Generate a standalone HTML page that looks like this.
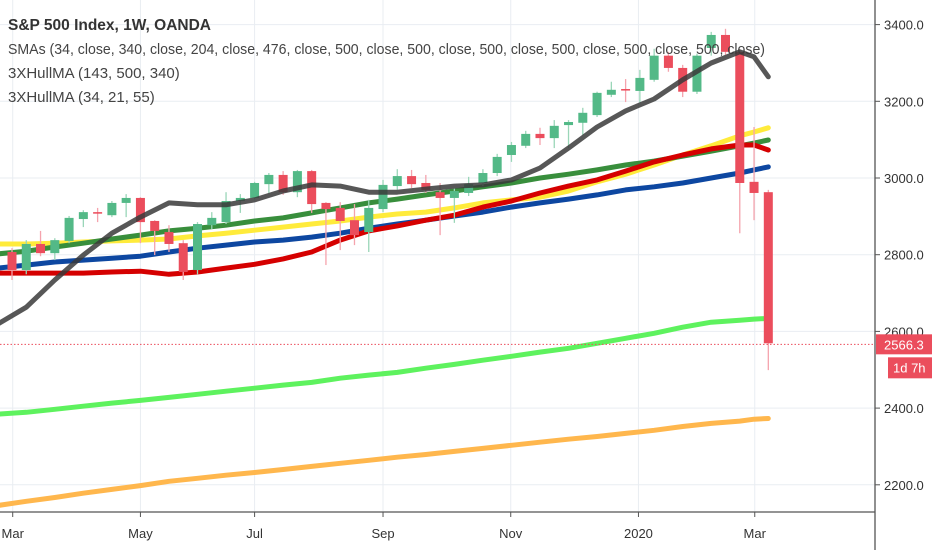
<!DOCTYPE html>
<html><head><meta charset="utf-8"><style>
html,body{margin:0;padding:0;background:#fff;}
svg{display:block;font-family:"Liberation Sans",sans-serif;}
</style></head><body>
<svg id="chart" width="932" height="550" viewBox="0 0 932 550" xmlns="http://www.w3.org/2000/svg">
<g id="grid"></g>
<g id="mas"></g>
<g id="candles"></g>
<g id="axes"></g>
<g id="legend">
<text x="8" y="30" font-size="15.5" font-weight="bold" fill="#333">S&amp;P 500 Index, 1W, OANDA</text>
<text x="8" y="54" font-size="15" fill="#444" textLength="757" lengthAdjust="spacingAndGlyphs">SMAs (34, close, 340, close, 204, close, 476, close, 500, close, 500, close, 500, close, 500, close, 500, close, 500, close)</text>
<text x="8" y="78" font-size="15" fill="#444">3XHullMA (143, 500, 340)</text>
<text x="8" y="102" font-size="15" fill="#444">3XHullMA (34, 21, 55)</text>
</g>
</svg>
<script>
const opens  = [2807,2760,2828,2804,2836,2893,2911,2903,2935,2948,2888,2859,2830,2760,2877,2885,2940,2948,2984,3008,2963,3018,2935,2922,2890,2859,2919,2979,3005,2987,2963,2948,2961,2987,3013,3060,3084,3115,3104,3138,3144,3164,3217,3232,3227,3256,3319,3287,3225,3339,3373,3329,2990,2963];
const highs  = [2817,2838,2862,2843,2901,2916,2922,2940,2958,2950,2890,2877,2838,2885,2911,2963,2958,2990,3013,3018,3021,3021,2937,2937,2932,2943,2995,3023,3021,3008,2987,2974,3003,3023,3063,3094,3123,3131,3151,3151,3183,3225,3251,3258,3282,3337,3329,3295,3324,3381,3389,3334,3133,2969];
const lows   = [2734,2749,2796,2786,2830,2872,2885,2898,2898,2830,2799,2807,2734,2749,2867,2880,2909,2945,2961,2956,2950,2909,2773,2812,2825,2807,2911,2969,2974,2961,2851,2883,2953,2979,3005,3042,3078,3086,3078,3078,3112,3159,3211,3198,3196,3251,3277,3211,3219,3319,3321,2856,2890,2499];
const closes = [2760,2828,2804,2838,2896,2911,2907,2935,2948,2885,2862,2828,2755,2880,2896,2940,2948,2987,3008,2963,3018,2932,2919,2888,2851,2922,2982,3005,2984,2969,2948,2966,2984,3013,3055,3086,3115,3104,3136,3146,3170,3222,3230,3228,3261,3319,3287,3225,3319,3373,3329,2987,2961,2569];
const maWeeks = [-1,1,3,5,7,9,11,13,15,17,19,21,23,25,27,29,31,33,35,37,39,41,43,45,47,49,51,52,53];
const smaGray   = [2619,2663,2734,2799,2856,2898,2935,2930,2930,2943,2966,2982,2979,2963,2963,2971,2979,2982,2995,3026,3078,3133,3175,3206,3256,3300,3329,3316,3264];
const smaGreen  = [2802,2809,2820,2830,2841,2851,2862,2869,2877,2888,2896,2909,2922,2935,2945,2956,2966,2977,2987,3000,3010,3021,3034,3044,3057,3070,3084,3091,3099];
const smaYellow = [2828,2828,2830,2833,2836,2838,2841,2849,2856,2864,2872,2880,2888,2898,2906,2911,2922,2935,2943,2950,2966,2990,3010,3034,3060,3084,3110,3120,3131];
const smaBlue   = [2765,2773,2781,2786,2791,2796,2807,2817,2825,2833,2838,2846,2856,2869,2880,2890,2901,2911,2924,2935,2945,2956,2969,2977,2987,3000,3013,3021,3029];
const hullRed   = [2752,2752,2752,2752,2755,2757,2749,2755,2765,2775,2789,2807,2838,2862,2875,2890,2903,2924,2940,2961,2979,2995,3018,3042,3060,3076,3086,3086,3073];
const smaLime   = [2384,2389,2397,2405,2413,2420,2428,2436,2444,2452,2460,2467,2478,2486,2493,2504,2514,2525,2535,2546,2556,2569,2582,2595,2611,2624,2629,2632,2634];
const smaOrange = [2146,2157,2167,2178,2188,2198,2209,2217,2225,2232,2240,2248,2256,2264,2272,2279,2287,2295,2303,2311,2319,2326,2334,2342,2352,2360,2366,2371,2373];
const priceTicks = [2200,2400,2600,2800,3000,3200,3400];
const timeLabels = ["Mar","May","Jul","Sep","Nov","2020","Mar"];
const timeWeeks  = [0.05,9.0,17.0,26.0,34.95,43.9,52.05];
const lastPrice = 2566.3;

const NS="http://www.w3.org/2000/svg";
const X0=12, WSTEP=14.27, Y0=178, PSCALE=0.3835, AXIS_X=875, AXIS_Y=512;
function xw(w){return X0+w*WSTEP;}
function yp(p){return Y0-(p-3000)*PSCALE;}
function mk(tag,attrs,parent){const e=document.createElementNS(NS,tag);for(const k in attrs)e.setAttribute(k,attrs[k]);parent.appendChild(e);return e;}

const grid=document.getElementById('grid');
priceTicks.forEach(p=>{
  const l=mk('line',{x1:0,x2:AXIS_X,y1:yp(p),y2:yp(p),stroke:'#e9edf2','stroke-width':1},grid);
  
  
});
timeWeeks.forEach(w=>{
  const l=mk('line',{x1:xw(w),x2:xw(w),y1:0,y2:AXIS_Y,stroke:'#e9edf2','stroke-width':1},grid);
  
  
});

const mas=document.getElementById('mas');
function drawMA(arr,color,width,name,op){
  const pts=arr.map((v,i)=>xw(maWeeks[i]).toFixed(1)+','+yp(v).toFixed(1)).join(' ');
  const pl=mk('polyline',{points:pts,fill:'none',stroke:color,'stroke-width':width,'stroke-linejoin':'round','stroke-linecap':'round',opacity:op||1},mas);
  
  
}
drawMA(smaOrange,'#ffb74d',5,'sma-orange-line');
drawMA(smaLime,'#5ef25e',5,'sma-lime-line');
drawMA(smaYellow,'#ffeb3b',5,'sma-yellow-line');
drawMA(smaBlue,'#0d47a1',5,'sma-blue-line');
drawMA(smaGreen,'#388e3c',5,'sma-green-line');
drawMA(hullRed,'#d50000',5,'hullma-red-line');

const cg=document.getElementById('candles');
opens.forEach((o,i)=>{
  const c=closes[i], x=xw(i), up=c>=o;
  const col=up?'#53b987':'#eb4d5c';
  const w=mk('line',{x1:x,x2:x,y1:yp(highs[i]),y2:yp(lows[i]),stroke:up?'#9ad6b8':'#f5a3ad','stroke-width':1.3},cg);
  
  
  const top=yp(Math.max(o,c)), bot=yp(Math.min(o,c));
  const b=mk('rect',{x:x-4.5,y:top,width:9,height:Math.max(1.5,bot-top),fill:col},cg);
  
  
});
drawMA(smaGray,'#3a3a3a',5,'sma-gray-line',0.85);
mas.parentNode.appendChild(mas.lastChild);

const ax=document.getElementById('axes');
const pl=mk('line',{x1:0,x2:AXIS_X,y1:yp(lastPrice),y2:yp(lastPrice),stroke:'#eb4d5c','stroke-width':1,'stroke-dasharray':'1.5,2'},ax);


const vl=mk('line',{x1:AXIS_X,x2:AXIS_X,y1:0,y2:550,stroke:'#555','stroke-width':1.3},ax);


const hl=mk('line',{x1:0,x2:AXIS_X,y1:AXIS_Y,y2:AXIS_Y,stroke:'#555','stroke-width':1.3},ax);


priceTicks.forEach(p=>{
  const t=mk('line',{x1:AXIS_X,x2:AXIS_X+5,y1:yp(p),y2:yp(p),stroke:'#555'},ax);
  
  
  const tx=mk('text',{x:884,y:yp(p)+5,'font-size':13,fill:'#333'},ax);
  tx.textContent=p.toFixed(1);
  
  
});
timeWeeks.forEach((w,i)=>{
  const t=mk('line',{x1:xw(w),x2:xw(w),y1:AXIS_Y,y2:AXIS_Y+5,stroke:'#555'},ax);
  
  
  const tx=mk('text',{x:xw(w),y:538,'font-size':13,fill:'#333','text-anchor':'middle'},ax);
  tx.textContent=timeLabels[i];
  
  
});
const ly=yp(lastPrice);
const lb=mk('rect',{x:876,y:ly-10,width:56,height:20,fill:'#eb4d5c'},ax);


const lt=mk('text',{x:884,y:ly+5,'font-size':13,fill:'#fff'},ax);
lt.textContent=lastPrice.toFixed(1);


const cb=mk('rect',{x:888,y:ly+13,width:44,height:21,fill:'#eb4d5c'},ax);


const ct=mk('text',{x:893,y:ly+28,'font-size':13,fill:'#fff'},ax);
ct.textContent='1d 7h';


</script>
</body></html>
